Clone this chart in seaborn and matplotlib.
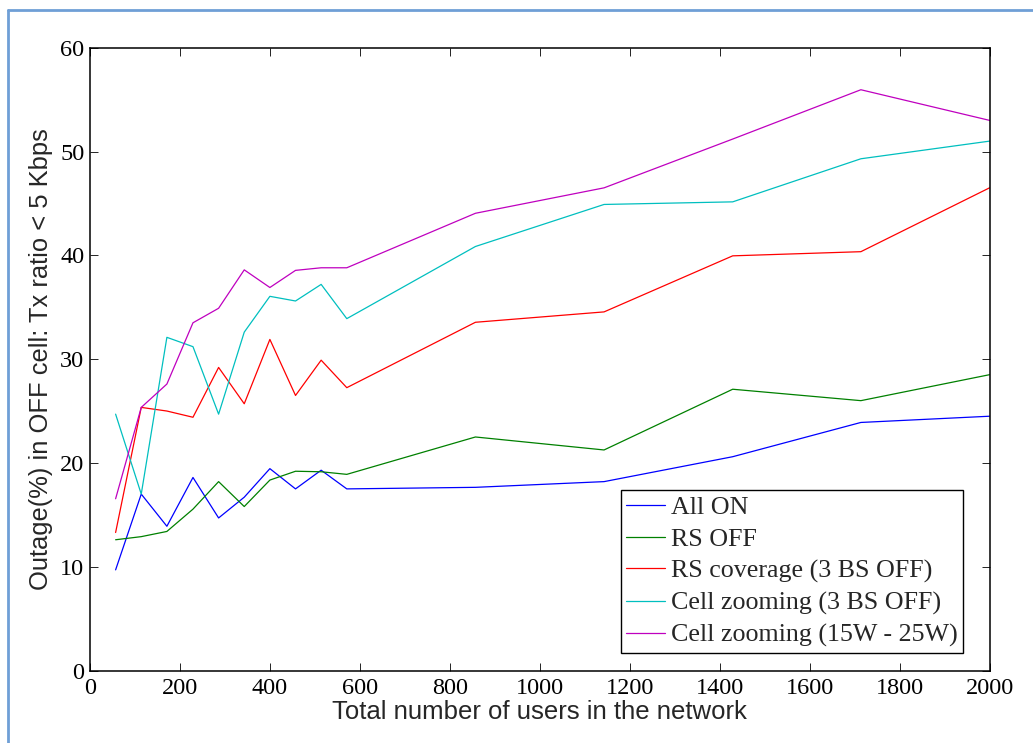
import matplotlib
matplotlib.use("Agg")
import matplotlib.pyplot as plt
from matplotlib.lines import Line2D
import seaborn as sns
import pandas as pd

users = [57, 114, 171, 229, 286, 343, 400, 457, 514, 571, 857, 1143, 1429, 1714, 2000]
all_on = [9.7, 17.0, 13.9, 18.6, 14.7, 16.7, 19.45, 17.5, 19.3, 17.5, 17.65, 18.2, 20.6, 23.9, 24.5]
rs_off = [12.6, 12.9, 13.4, 15.55, 18.2, 15.8, 18.35, 19.2, 19.15, 18.9, 22.5, 21.25, 27.1, 26.0, 28.5]
rs_cov = [13.3, 25.35, 25.0, 24.4, 29.2, 25.7, 31.9, 26.5, 29.9, 27.25, 33.55, 34.55, 39.95, 40.35, 46.5]
cz_3bs = [24.7, 17.0, 32.1, 31.2, 24.7, 32.6, 36.05, 35.6, 37.2, 33.9, 40.85, 44.9, 45.15, 49.3, 51.0]
cz_pow = [16.55, 25.35, 27.6, 33.5, 34.9, 38.6, 36.9, 38.55, 38.8, 38.8, 44.05, 46.5, 51.2, 55.95, 53.0]

series_names = ["All ON", "RS OFF", "RS coverage (3 BS OFF)",
                "Cell zooming (3 BS OFF)", "Cell zooming (15W - 25W)"]
series_values = [all_on, rs_off, rs_cov, cz_3bs, cz_pow]
colors = ["#0000ff", "#008000", "#ff0000", "#00bfbf", "#bf00bf"]

x_ticks = [0, 200, 400, 600, 800, 1000, 1200, 1400, 1600, 1800, 2000]
y_ticks = [0, 10, 20, 30, 40, 50, 60]

rows = []
for name, vals in zip(series_names, series_values):
    for u, v in zip(users, vals):
        rows.append({"users": u, "outage": v, "series": name})
df = pd.DataFrame(rows)

sns.set_style("ticks")
plt.rcParams["font.family"] = "serif"
plt.rcParams["font.serif"] = ["Liberation Serif", "DejaVu Serif"]
plt.rcParams["font.sans-serif"] = ["Liberation Sans", "DejaVu Sans"]

SERIF = "Liberation Serif"
SANS = "Liberation Sans"

fig = plt.figure(figsize=(10.33, 7.43), dpi=100)
ax = fig.add_axes([0.0871, 0.0975, 0.8708, 0.8383])

sns.lineplot(data=df, x="users", y="outage", hue="series", hue_order=series_names,
             palette=colors, linewidth=0.9, ax=ax, legend=False)

ax.set_xlim(0, 2000)
ax.set_ylim(0, 60)
ax.set_xticks(x_ticks, labels=[str(t) for t in x_ticks], fontfamily=SERIF, fontsize=17.5)
ax.set_yticks(y_ticks, labels=[str(t) for t in y_ticks], fontfamily=SERIF, fontsize=17.5)
ax.tick_params(direction="in", length=6, width=0.6, top=True, right=True,
               colors="black")
ax.tick_params(axis="x", pad=5)
ax.tick_params(axis="y", pad=4)
for sp in ax.spines.values():
    sp.set_visible(True)
    sp.set_linewidth(1.1)
    sp.set_color("black")

ax.set_xlabel("Total number of users in the network", fontsize=18.5,
              fontfamily=SANS, labelpad=1)
ax.set_ylabel("Outage(%) in OFF cell: Tx ratio < 5 Kbps", fontsize=18.4,
              fontfamily=SANS, labelpad=5)

handles = [Line2D([0], [0], color=c, linewidth=0.9) for c in colors]
leg = ax.legend(handles, series_names, loc="lower right",
                bbox_to_anchor=(963 / 1033, 1 - 653 / 743), bbox_transform=fig.transFigure,
                borderaxespad=0, prop={"family": SERIF, "size": 18.7},
                frameon=True, fancybox=False, framealpha=1, edgecolor="black",
                handlelength=1.5, handletextpad=0.2, labelspacing=0.33, borderpad=0.22)
leg.get_frame().set_linewidth(1.0)

# light blue frame around the figure
frame_col = "#6f9fd6"
fig.add_artist(Line2D([8 / 1033, 8 / 1033], [0, 1 - 10 / 743], transform=fig.transFigure,
                      color=frame_col, linewidth=2))
fig.add_artist(Line2D([8 / 1033, 1], [1 - 10 / 743, 1 - 10 / 743], transform=fig.transFigure,
                      color=frame_col, linewidth=2))

fig.savefig("out.png", dpi=100)
